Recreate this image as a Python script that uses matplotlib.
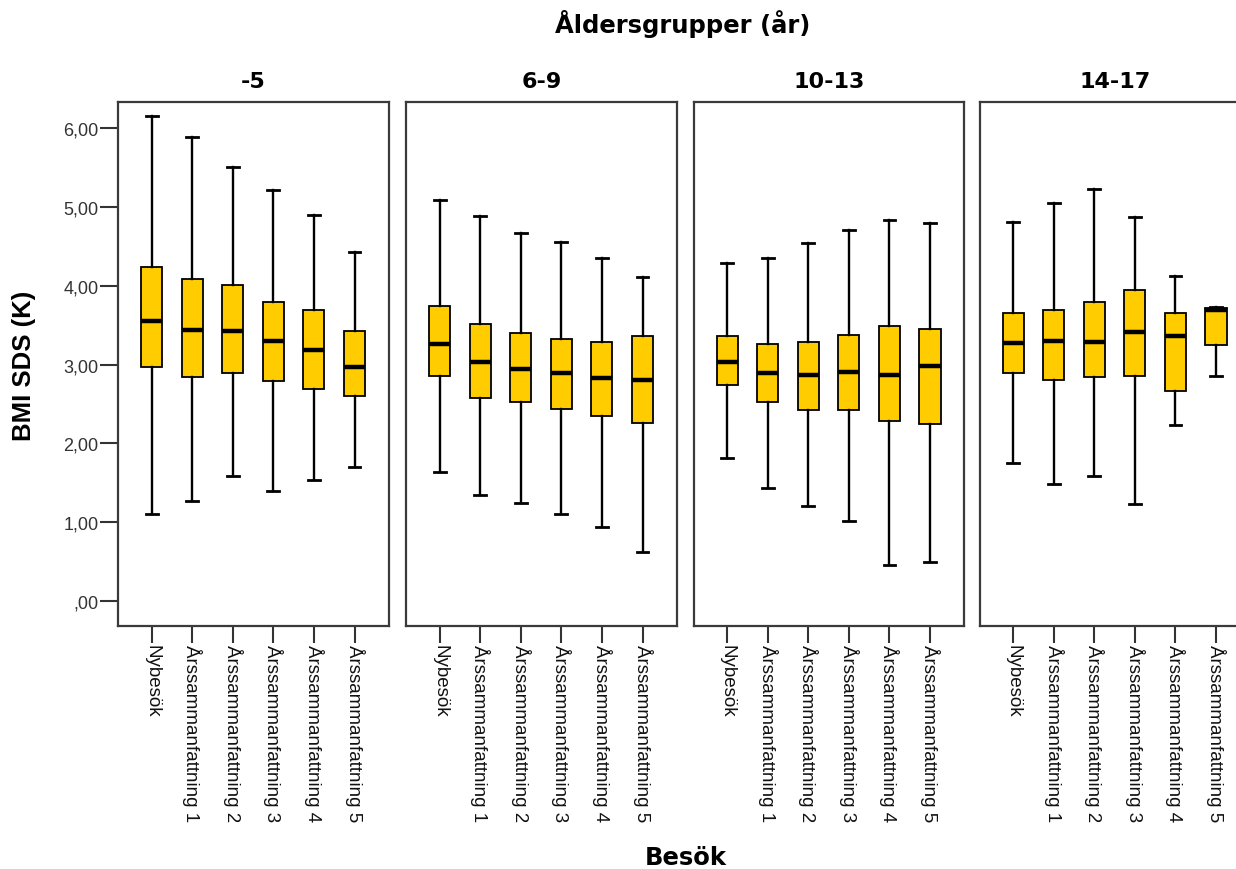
import matplotlib.pyplot as plt

groups = ["-5", "6-9", "10-13", "14-17"]
visits = ["Nybesök", "Årssammanfattning 1", "Årssammanfattning 2",
          "Årssammanfattning 3", "Årssammanfattning 4", "Årssammanfattning 5"]

# one row per age group, one value per visit
whisker_low = [[1.10, 1.27, 1.59, 1.40, 1.53, 1.70],
               [1.64, 1.34, 1.25, 1.10, 0.94, 0.62],
               [1.82, 1.44, 1.20, 1.02, 0.46, 0.49],
               [1.75, 1.48, 1.59, 1.23, 2.23, 2.85]]
q1 = [[2.97, 2.84, 2.90, 2.79, 2.69, 2.60],
      [2.86, 2.58, 2.52, 2.44, 2.35, 2.26],
      [2.74, 2.53, 2.42, 2.42, 2.28, 2.25],
      [2.89, 2.80, 2.84, 2.85, 2.67, 3.25]]
median = [[3.56, 3.44, 3.43, 3.30, 3.19, 2.97],
          [3.26, 3.04, 2.95, 2.90, 2.83, 2.81],
          [3.03, 2.90, 2.87, 2.91, 2.87, 2.98],
          [3.27, 3.30, 3.29, 3.42, 3.37, 3.70]]
q3 = [[4.24, 4.09, 4.01, 3.80, 3.70, 3.43],
      [3.75, 3.52, 3.40, 3.32, 3.29, 3.36],
      [3.36, 3.26, 3.29, 3.38, 3.49, 3.45],
      [3.66, 3.70, 3.79, 3.95, 3.65, 3.72]]
whisker_high = [[6.16, 5.89, 5.51, 5.22, 4.90, 4.43],
                [5.09, 4.89, 4.67, 4.56, 4.35, 4.11],
                [4.29, 4.35, 4.55, 4.71, 4.84, 4.80],
                [4.81, 5.05, 5.23, 4.88, 4.13, 3.73]]
y_ticks = [0, 1, 2, 3, 4, 5, 6]

W, H = 1236, 870
fig = plt.figure(figsize=(W / 100, H / 100), dpi=100)
lefts = [118, 406, 693.5, 979.5]
top_px, bottom_px, width_px = 103, 627, 271

for i, g in enumerate(groups):
    ax = fig.add_axes([lefts[i] / W, (H - bottom_px) / H, width_px / W, (bottom_px - top_px) / H])
    stats = []
    for j in range(len(visits)):
        stats.append(dict(whislo=whisker_low[i][j], q1=q1[i][j], med=median[i][j],
                          q3=q3[i][j], whishi=whisker_high[i][j], fliers=[]))
    ax.bxp(stats, positions=range(len(visits)), widths=0.52, capwidths=0.29,
           patch_artist=True, showfliers=False,
           boxprops=dict(facecolor="#FFCC00", edgecolor="black", linewidth=1.3),
           medianprops=dict(color="black", linewidth=3.2),
           whiskerprops=dict(color="black", linewidth=1.7),
           capprops=dict(color="black", linewidth=2.0))
    ax.set_xlim(-0.83, 5.85)
    ax.set_ylim(-0.317, 6.334)
    ax.set_xticks(range(len(visits)))
    ax.set_xticklabels(visits, rotation=270, ha="center", va="top",
                       fontsize=13.5, family="Liberation Sans", color="#111111")
    ax.tick_params(axis="x", direction="out", length=12, width=1.5, color="#333333", pad=1)
    if i == 0:
        ax.set_yticks(y_ticks)
        ax.set_yticklabels([("%.2f" % v).replace(".", ",").lstrip("0") for v in y_ticks],
                           fontsize=13, family="Liberation Sans", color="#333333")
        ax.tick_params(axis="y", direction="out", length=13, width=1.5, color="#333333", pad=1)
    else:
        ax.set_yticks([])
    for s in ax.spines.values():
        s.set_color("#3a3a3a")
        s.set_linewidth(1.6)
    fig.text((lefts[i] + width_px / 2) / W, (H - 88) / H, g, ha="center", va="baseline",
             fontsize=16, fontweight="bold", family="DejaVu Sans")

fig.text(683 / W, (H - 33) / H, "Åldersgrupper (år)", ha="center", va="baseline",
         fontsize=17.5, fontweight="bold", family="DejaVu Sans")
fig.text(686 / W, (H - 865) / H, "Besök", ha="center", va="baseline",
         fontsize=17.5, fontweight="bold", family="DejaVu Sans")
fig.text(24 / W, (H - 366) / H, "BMI SDS (K)", ha="center", va="center", rotation=90,
         fontsize=18.5, fontweight="bold", family="Liberation Sans")

fig.savefig("out.png", dpi=100)
